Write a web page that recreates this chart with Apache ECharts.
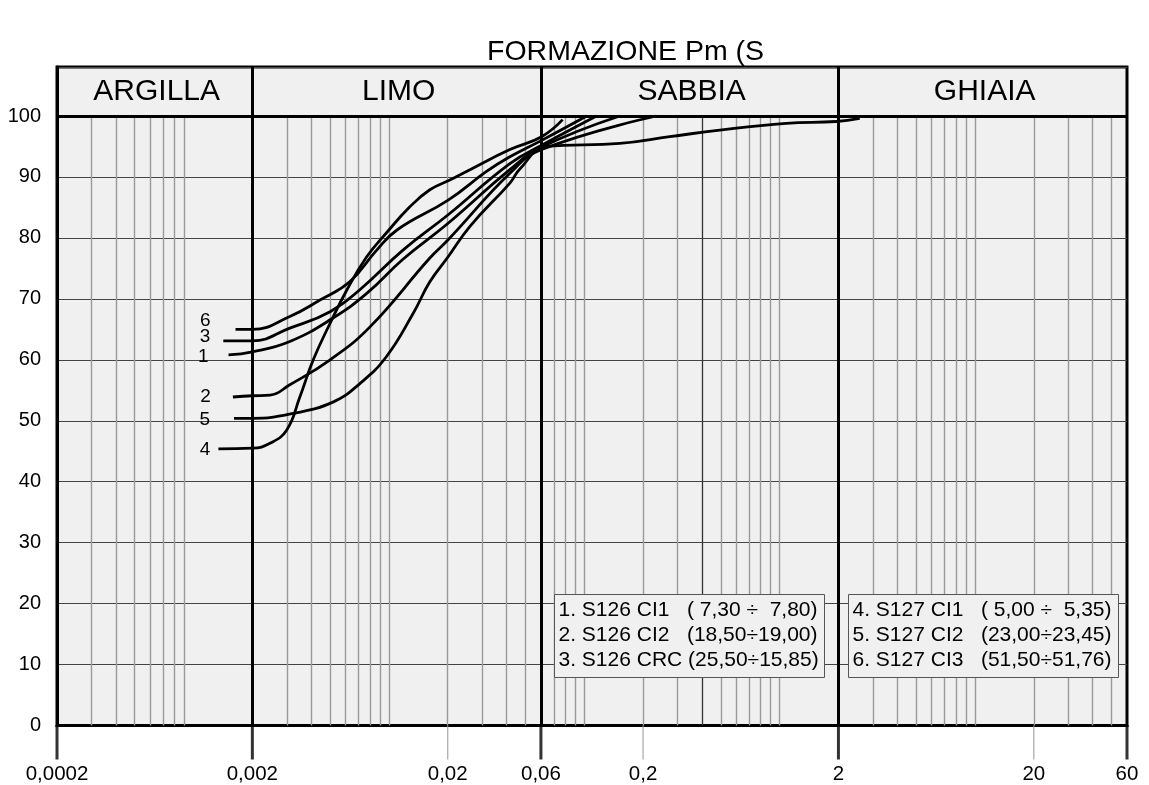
<!DOCTYPE html>
<html><head><meta charset="utf-8">
<script src="https://cdn.jsdelivr.net/npm/echarts@6/dist/echarts.min.js"></script>
<style>html,body{margin:0;padding:0;background:#fff}#c{width:1149px;height:785px}</style>
</head><body><div id="c"></div>
<script>
// ---------------- data ----------------
const titleText = 'FORMAZIONE Pm (S';
const tickValues = [0.0002, 0.002, 0.02, 0.06, 0.2, 2, 20, 60];
const tickLabels = ['0,0002', '0,002', '0,02', '0,06', '0,2', '2', '20', '60'];
const thickTicks = [0.0002, 0.002, 0.06, 2, 60];
const thinTicks = [0.02, 0.2, 20];
const classEdges = [0.0002, 0.002, 0.06, 2, 60];
const classNames = ['ARGILLA', 'LIMO', 'SABBIA', 'GHIAIA'];
const classBounds = [0.002, 0.06, 2];
const minorGrid = [0.0003, 0.0004, 0.0005, 0.0006, 0.0007, 0.0008, 0.0009,
  0.003, 0.004, 0.005, 0.006, 0.007, 0.008, 0.009, 0.01, 0.02, 0.03, 0.04, 0.05,
  0.07, 0.08, 0.09, 0.1, 0.2, 0.3, 0.5, 0.6, 0.7, 0.8, 0.9, 1,
  3, 4, 5, 6, 7, 8, 9, 10, 20, 30, 40, 50];
const darkGrid = [0.4];
const yMin = 0, yTop = 100, yHeaderTop = 108.04;

const curve1 = [[0.00151,60.8],[0.002,61.3],[0.00311,63.0],[0.0052,66.9],[0.0077,70.9],[0.0118,76.5],[0.0201,82.4],[0.0416,91.2],[0.0605,94.9],[0.152,100]];
const curve2 = [[0.00159,53.9],[0.002,54.1],[0.00246,54.2],[0.00311,55.9],[0.005,60.0],[0.008,65.4],[0.0162,76.7],[0.0201,79.7],[0.0416,90.6],[0.0605,94.5],[0.234,100]];
const curve3 = [[0.00142,63.1],[0.002,63.1],[0.00311,65.2],[0.005,67.9],[0.0071,71.5],[0.0118,78.0],[0.0201,83.8],[0.0416,92.2],[0.0605,95.2],[0.1156,100]];
const curve4 = [[0.00134,45.4],[0.002,45.5],[0.00246,46.3],[0.0030,48.5],[0.0035,53.9],[0.0041,60.0],[0.0050,66.0],[0.0061,71.5],[0.0077,76.9],[0.0097,80.8],[0.0128,85.1],[0.0162,87.9],[0.0205,89.5],[0.026,91.2],[0.0416,94.5],[0.0605,96.6],[0.0775,99.4]];
const curve5 = [[0.00161,50.4],[0.002,50.4],[0.00324,51.2],[0.0052,53.1],[0.0071,56.1],[0.0097,60.5],[0.0133,67.6],[0.0162,72.8],[0.0201,76.9],[0.026,81.9],[0.0416,89.0],[0.0468,91.3],[0.064,95.0],[0.152,95.5],[0.274,96.6],[0.494,97.7],[1.08,98.8],[1.95,99.1],[2.57,99.6]];
const curve6 = [[0.00164,65.0],[0.002,65.0],[0.00311,67.1],[0.00444,69.8],[0.0063,72.8],[0.00866,78.0],[0.011,81.3],[0.0201,86.2],[0.0316,90.9],[0.0416,93.3],[0.0605,96.0],[0.103,100]];
const curveNames = ['1', '2', '3', '4', '5', '6'];
const legendLeft = ['1. S126 CI1   ( 7,30 ÷  7,80)', '2. S126 CI2   (18,50÷19,00)', '3. S126 CRC (25,50÷15,85)'];
const legendRight = ['4. S127 CI1   ( 5,00 ÷  5,35)', '5. S127 CI2   (23,00÷23,45)', '6. S127 CI3   (51,50÷51,76)'];

// ---------------- styling ----------------
const FONT = 'Liberation Sans, Arial, sans-serif';
const curveData = [curve1, curve2, curve3, curve4, curve5, curve6];
const numLabelStyle = [
  {distance: 20, offset: [0, 2]},
  {distance: 22, offset: [0, 0]},
  {distance: 13, offset: [0, -4]},
  {distance: 8, offset: [0, 1]},
  {distance: 24, offset: [0, 1]},
  {distance: 25, offset: [0, -9]}
];

function fmtTick(v) {
  let best = 0, bd = Infinity;
  tickValues.forEach((t, i) => { const d = Math.abs(Math.log10(v) - Math.log10(t)); if (d < bd) { bd = d; best = i; } });
  return bd < 0.01 ? tickLabels[best] : '';
}

const chart = echarts.init(document.getElementById('c'), null, {renderer: 'canvas'});

const series = [];
// minor vertical grid
series.push({
  type: 'line', data: [], silent: true, z: 1,
  markLine: {silent: true, symbol: ['none', 'none'], animation: false, label: {show: false},
    lineStyle: {color: '#999', width: 1.4, type: 'solid'},
    data: minorGrid.map(v => [{coord: [v, yMin]}, {coord: [v, yTop]}])}
});
series.push({
  type: 'line', data: [], silent: true, z: 1,
  markLine: {silent: true, symbol: ['none', 'none'], animation: false, label: {show: false},
    lineStyle: {color: '#333', width: 1.3, type: 'solid'},
    data: darkGrid.map(v => [{coord: [v, yMin]}, {coord: [v, yTop]}])}
});
// class boundaries + top line
series.push({
  type: 'line', data: [], silent: true, z: 4,
  markLine: {silent: true, symbol: ['none', 'none'], animation: false, label: {show: false},
    lineStyle: {color: '#000', width: 3, type: 'solid'},
    data: classBounds.map(v => [{coord: [v, yMin]}, {coord: [v, yHeaderTop]}])
      .concat([[{coord: [classEdges[0], yTop]}, {coord: [classEdges[classEdges.length - 1], yTop]}]])},
  markArea: {silent: true, animation: false,
    itemStyle: {color: 'rgba(0,0,0,0)'},
    label: {show: true, position: 'inside', color: '#000', fontSize: 30, fontFamily: FONT, offset: [2, 0]},
    data: classNames.map((n, i) => [{name: n, coord: [classEdges[i], yTop]}, {coord: [classEdges[i + 1], yHeaderTop]}])}
});
// tick marks below axis
series.push({
  type: 'scatter', data: thickTicks.map(v => [v, yMin]), silent: true, clip: false, z: 5,
  symbol: 'rect', symbolSize: [3, 34], symbolOffset: [0, 17], itemStyle: {color: '#000'}
});
series.push({
  type: 'scatter', data: thinTicks.map(v => [v, yMin]), silent: true, clip: false, z: 5,
  symbol: 'rect', symbolSize: [1.3, 34], symbolOffset: [0, 17], itemStyle: {color: '#999'}
});
// curves
curveData.forEach((pts, i) => {
  series.push({
    type: 'line', name: curveNames[i], data: pts, smooth: 0.45, symbol: 'none', z: 6,
    lineStyle: {color: '#000', width: 2.8}, silent: true,
    markPoint: {silent: true, animation: false, symbol: 'circle', symbolSize: 0,
      data: [{coord: pts[0], label: {show: true, formatter: curveNames[i], position: 'left',
        distance: numLabelStyle[i].distance, offset: numLabelStyle[i].offset,
        fontSize: 19, color: '#000', fontFamily: FONT}}]}
  });
});

function legendBox(x, lines) {
  return {
    type: 'group', left: x, top: 594, z: 100,
    children: [
      {type: 'rect', shape: {x: 0, y: 0, width: 270, height: 83}, style: {fill: '#f0f0f0', stroke: '#555', lineWidth: 1}, z: 100},
    ].concat(lines.map((t, i) => ({
      type: 'text', x: 4, y: 16 + i * 25, z: 101,
      style: {text: t, fill: '#000', font: '21px ' + FONT, textVerticalAlign: 'middle', verticalAlign: 'middle'}
    })))
  };
}

chart.setOption({
  animation: false,
  backgroundColor: '#fff',
  title: {text: titleText, left: 482, top: 33,
    textStyle: {fontSize: 28.5, fontWeight: 'normal', color: '#000', fontFamily: FONT}},
  grid: {left: 57, right: 22, top: 67, bottom: 59.5, show: true, backgroundColor: '#f0f0f0', borderColor: '#000', borderWidth: 3, containLabel: false},
  xAxis: {
    type: 'log', logBase: 10, min: 0.0002, max: 60,
    axisLine: {show: true, lineStyle: {color: '#000', width: 3}},
    axisTick: {show: false}, splitLine: {show: false}, minorTick: {show: false}, minorSplitLine: {show: false},
    axisLabel: {customValues: tickValues, formatter: fmtTick, fontSize: 20.5, color: '#000', margin: 38, fontFamily: FONT, showMinLabel: true, showMaxLabel: true}
  },
  yAxis: {
    type: 'value', min: yMin, max: yHeaderTop, interval: 10,
    axisLine: {show: true, lineStyle: {color: '#000', width: 3}},
    axisTick: {show: false},
    splitLine: {show: true, lineStyle: {color: '#444', width: 1.2}},
    axisLabel: {formatter: v => (v > yTop + 0.001 ? '' : String(Math.round(v))), fontSize: 20, color: '#000', margin: 16, fontFamily: FONT}
  },
  series: series,
  graphic: [legendBox(554, legendLeft), legendBox(848, legendRight)]
});
</script>
</body></html>
